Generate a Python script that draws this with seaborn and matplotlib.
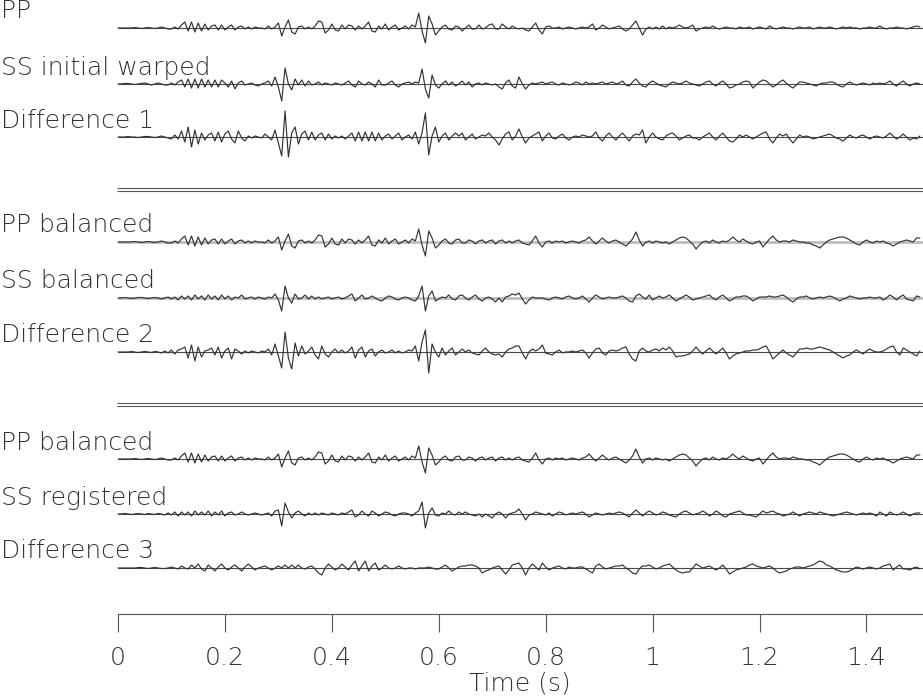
import numpy as np
import pandas as pd
import matplotlib
matplotlib.use("Agg")
import matplotlib.pyplot as plt
import seaborn as sns

# sample interval of the traces (s)
dt = 1 / 160

trace_names = ["PP", "SS initial warped", "Difference 1",
               "PP balanced", "SS balanced", "Difference 2",
               "PP balanced", "SS registered", "Difference 3"]

tick_vals = [0, 0.2, 0.4, 0.6, 0.8, 1.0, 1.2, 1.4]
tick_text = ["0", "0.2", "0.4", "0.6", "0.8", "1", "1.2", "1.4"]

# trace amplitudes, one row = 0.1 s
pp_raw = [
    0, 0, 0, 0, 0, 0.5, 0, -0.5, 0, 0.5, 0, -0.5, 0, 1, 0, -1,
    -1, 1, -1, 3, 6, -3, 6, -4, 5, -3, 4, -2, 2, 3, -2, 3,
    -2, 1, 3, -2, 1, 2, -1, 1, -1, 1, 0, 0, -1, 2, -1, 1,
    5, -8, 1, 8, -4, -6, 1, 2, -1, 1, -1, 2, 7, 6, -5, -2,
    4, -2, -3, 3, -1, 3, 2, -2, 2, -1, 2, 6, -3, -4, 2, -1,
    4, -2, 1, 3, -2, 0, 2, -1, 3, 1, 15, -3, -15, 12, 4, -7,
    -3, 1, 3, -1, -2, 2, 1, -3, 0, 3, -1, -1, 3, -1, 0, 3,
    4, -1, -1, 4, 1, -1, 2, 0, -1, 0, -2, -3, 1, 5, -2, -6,
    1, 2, 0, 0, 1, -1, 0, 1, 0, -1, 0, 1, 0, 1, 4, -2,
    0, 3, 1, -1, 0, 1, 2, -1, -3, -1, 3, 7, 0, -7, -1, 1,
    -1, 1, -1, 2, -1, 1, 0, 1, 3, 1, 0, 1, 3, -3, -1, 0,
    1, 0, 2, 0, -1, 0, 1, 0, 0, -1, 1, 0, 0, 1, -1, 0,
    1, 0, -1, 2, 0, -1, 0, 1, 0, 0, -1, 0, 1, 0, 0, 1,
    -1, 0, 1, 0, 0, 1, 0, -1, 0, 1, 0, 1, 0, 0, -1, 0,
    0, 1, 0, 0, 2, 0, -1, 0, 0, 1, 0, 0, -1, 0, 1, 2,
    1]

pp_bal = [
    0, 0, 0, 0, 0, 0.5, 0, -0.5, 0, 0.5, 0, -0.5, 0, 1, 0, -1,
    -1, 1, -1, 3, 6, -3, 6, -4, 5, -3, 4, -2, 2, 3, -2, 3,
    -2, 1, 3, -2, 1, 2, -1, 1, -1, 1, 0, 0, -1, 2, -1, 1,
    5, -8, 1, 8, -4, -6, 1, 2, -1, 1, -1, 2, 7, 6, -5, -2,
    4, -2, -3, 3, -1, 3, 2, -2, 2, -1, 2, 6, -3, -4, 2, -1,
    4, -2, 1, 3, -2, 0, 2, -1, 3, 1, 13, -3, -14, 11, 4, -6,
    -3, 1, 3, -1, -2, 2, 3, -1, -1, 2, 1, -2, 1, 2, -1, 1,
    2, -2, 1, 2, -1, 1, -1, 1, 2, -1, -2, -3, 1, 6, -1, -5,
    0, 1, -1, 1, 0, 1, -1, 0, 1, 0, -1, 1, 2, 5, 1, -2,
    1, 4, 1, -1, 1, 2, 0, -2, -4, -1, 3, 10, 2, -4, 0, 1,
    -1, 1, 0, -1, 0, -2, 0, 2, 4, 5, 4, 1, -2, -7, -3, 0,
    1, -1, 2, 0, -1, 1, 0, 2, 5, 2, 0, 3, 1, -1, -2, 0,
    1, -5, -1, 3, 6, 2, 0, 1, 1, 0, 2, 1, 0, 0, -1, -1,
    -3, -4, -6, -3, 0, 2, 3, 4, 5, 5, 4, 2, 0, -2, -3, 0,
    2, 0, -1, 1, 0, 1, -1, -2, -4, -2, 0, 1, 2, 1, 0, 4,
    4]

ss_warp = [
    0, 0, 0.5, 0.5, 0, -0.5, 0, 0.5, 1, 0, -1, 0, 1, 0, -1, -1,
    1, -1, 2, 4, -3, 5, -4, 5, -4, 5, -3, 4, -3, 4, -3, 4,
    1, -3, 3, -5, 1, 3, -1, 0, 1, -1, -2, 0, 1, 3, -2, 7,
    -3, -17, 16, 0, -6, 5, -1, 4, -2, 3, -1, 0, 2, -1, 1, 0,
    -1, 1, 0, -1, 1, 3, -1, -3, 3, 0, -1, 2, 0, -3, 4, -1,
    -1, 1, 3, -1, -3, 0, 1, 2, 0, 2, 1, 15, -5, -14, 9, -1,
    -4, 0, 3, -1, 2, -2, 0, 3, -1, 2, -3, 0, 1, -1, 1, 0,
    -1, 0, -3, -5, 1, 4, -2, -4, 7, 0, -5, -1, 1, 0, 1, 2,
    0, 1, 2, 0, -1, 1, 0, -1, 0, 2, 1, -1, 2, 0, 1, 0,
    1, 2, 0, 1, 2, 0, 1, 3, -1, -2, 2, 5, 1, -2, -3, 1,
    3, 1, -1, -2, -3, 0, 2, 1, 0, 1, 3, 1, 0, -1, -2, 0,
    2, 3, 0, -2, 1, 3, 0, -4, -3, -1, 0, 2, 3, 2, -4, -1,
    2, 4, 3, 0, -3, -1, 2, 4, 1, -2, -4, -1, 2, 2, 1, 0,
    -1, -2, 0, 1, 1, 2, 2, 0, -2, -3, 0, 2, 0, -1, 0, 1,
    0, -1, 1, 0, 1, 0, 1, 3, 0, -2, 1, 3, 0, -2, 0, 1,
    0]

diff1 = [
    0, 0, 0, 0.5, 0, 0, -0.5, 0, 0.5, 0.5, 0, -0.5, 0, 1, 0, -1,
    -2, 2, -2, 6, -5, 10, -10, 7, -7, 4, -3, 2, 4, -4, 5, -5,
    3, 6, -2, -6, 6, -1, -4, 1, -1, 1, 0, -1, 3, 0, -3, 7,
    -6, -19, 26, -20, 4, 10, -7, 3, 6, -3, 5, -3, 2, 4, -3, 3,
    -2, 1, -1, 1, -2, 1, 4, -4, 5, -4, 5, -4, 5, -4, 4, -3,
    1, 3, -2, 1, 4, -3, 0, 2, -2, 5, -7, 4, 24, -18, 1, 10,
    -5, 1, 4, -3, 1, 4, 1, 4, -3, 0, 3, -2, 0, 2, 1, 4,
    0, -3, -8, -2, 3, 5, -3, 1, 8, 0, -6, -1, 1, 3, 5, -4,
    1, 4, -1, -2, 1, 3, -1, -3, 0, 1, 0, 2, 1, 0, 1, 5,
    -1, -4, 1, 4, 0, -3, 1, 4, 0, -4, 1, 3, 2, 7, -6, 0,
    4, 0, -2, -3, 1, 3, 4, 1, -3, -1, 1, 2, -1, -1, -3, 0,
    2, 4, 0, -3, 1, 4, 0, -4, -5, -2, 2, 0, 2, 0, -2, 0,
    2, 4, 5, -2, -6, -1, 3, 1, 3, -2, -6, -2, 2, 0, 1, 0,
    -2, -1, 0, 1, 2, 3, 1, -1, -2, -4, -1, 2, 0, -1, 1, 2,
    0, -2, 0, 1, 0, -1, 1, 4, 1, -2, 0, 3, 0, -3, -1, -2,
    1]

ss_bal = [
    0, 0, 0.5, 0, -0.5, 0, 0.5, 0.5, 0, -0.5, 0, 0.5, 0, -1, 0, 1,
    -1, 1, -2, 2, -1, 2, -2, 3, -1, 2, -2, 3, -1, 2, -2, 3,
    -1, 2, -2, 1, 0, 3, -1, 0, 1, -1, 1, 0, -1, 1, 0, 4,
    -2, -13, 12, 0, -5, 4, -1, 0, 3, -1, 2, -1, 1, -1, 0, 1,
    -1, 0, 1, -1, 0, 2, 4, -3, 0, 3, -1, 0, 2, 0, -2, -3,
    0, 2, 1, -1, -2, 0, 1, 0, -2, -3, 2, 12, -13, 2, 7, -3,
    -1, 1, 0, 3, -1, -2, 2, 3, 0, -2, 1, 3, -1, -3, 0, 1,
    -1, -4, 0, -4, 1, 2, 4, 3, 5, -1, -6, -2, 1, 0, 0, 0,
    -1, -2, 0, 1, 0, -1, 1, 2, 0, -1, 0, 2, -1, -4, 0, 3,
    1, -1, 0, 1, 0, 0, 1, 2, 0, -3, -4, 2, 4, 1, -1, 3,
    -2, 0, 2, 0, 1, 3, 0, -3, -1, 1, 3, 1, -2, -1, 0, 1,
    2, 3, 0, -2, 1, 3, 0, -3, -1, 1, 1, 2, 2, 0, -3, -1,
    1, 1, 1, 2, 1, 1, 2, 3, 1, -2, -4, -1, 1, 1, 2, 0,
    -1, 0, 1, 0, 1, 2, 1, -1, -3, -1, 0, 2, 1, 0, -1, 0,
    0, 1, 0, 0, 1, -2, 0, 3, 1, -2, 1, 3, -1, -2, -3, 2,
    1]

diff2 = [
    0, 0, 0, 0, 0.5, 0, -0.5, 0, 0.5, 0, -0.5, 0.5, 0, -1, 1, -1,
    2, -2, 2, 3, 5, -6, 7, -9, 5, -5, 1, 2, 4, -3, 5, -6,
    1, 4, -7, 3, 1, -2, 1, -1, 1, 0, -1, 1, 0, 3, -3, 8,
    -4, -16, 20, -6, -17, 9, -4, 6, -2, 1, 5, -3, -7, 6, -2, -5,
    0, 3, -1, 2, -1, 1, 5, -6, 2, 5, -5, 1, 3, -4, 0, 2,
    -1, 0, 2, -1, 1, -1, 0, 2, 1, 6, -9, 10, 22, -21, 8, 0,
    -5, 4, -3, 1, 4, -3, 0, 3, 0, 2, -1, -2, -3, 1, 4, 0,
    -2, -3, -2, -5, 0, 3, 4, 6, 6, -1, -7, 0, 3, 1, 3, 7,
    -1, -2, -3, 0, 2, -1, 0, 0, 1, 0, 1, 2, -1, -6, -1, 3,
    4, -1, -3, 1, 2, 1, 2, 4, 5, -2, -7, -9, 1, 4, 1, 0,
    2, 3, 1, 4, 2, 5, 1, -5, -4, -4, -3, -2, 1, 5, 1, -2,
    1, 4, 1, -2, 1, 4, -1, -7, -4, -2, -1, 0, 1, 1, 2, 2,
    3, 5, 6, 0, -7, -4, -1, 2, -1, -3, -5, -1, 3, 3, 4, 3,
    3, 4, 5, 4, 3, 2, 0, -2, -4, -6, -4, -3, 0, 2, 0, -2,
    1, 3, 1, 0, 0, 1, 3, 5, 6, 0, -3, 4, 2, 0, -2, -4,
    1]

ss_reg = [
    0, 0, 0.5, 0, -0.5, 0, 0.5, 0, -0.5, 0.5, 0, -0.5, 0.5, 0, -1, 1,
    -1, 2, -2, 2, -1, 2, -2, 3, -1, 2, -1, 3, -2, 2, -1, 3,
    -2, 1, 2, -1, 0, 2, 0, -1, 0, 1, 0, -1, 0, 1, -2, 3,
    4, -12, 11, 2, -4, 1, 3, 0, -2, 1, -1, 1, -1, 1, 0, -1,
    1, 0, -1, 1, 0, 2, 4, -3, -1, 3, 0, -2, 3, 1, -2, 0,
    2, 1, -1, -2, 0, 1, 1, 0, -2, 1, 3, 12, -14, 1, 6, -1,
    -2, 1, 0, 3, 0, -1, 2, 0, 2, 0, -1, -2, 0, -3, 0, -2,
    -4, 0, 2, 0, -4, 0, 1, 2, 5, 0, -6, -1, 0, 2, 1, 0,
    -1, 1, -2, 0, 2, 1, -1, 0, 1, 0, 1, 2, 0, -3, -1, 1,
    0, -1, 0, 1, 0, 1, 2, 1, -1, -3, 1, 4, 1, -2, 1, 3,
    1, -1, 0, 2, 1, -1, -2, -3, 0, 2, 3, 1, -1, 0, 1, 3,
    1, -2, 0, 3, 1, -2, -3, 0, 1, 2, 3, 1, -1, -1, -2, -3,
    0, 3, 1, 2, 3, 1, 0, -2, -1, 0, 2, 0, -2, 0, 1, 2,
    1, 0, 2, 1, 0, -1, -2, -1, 0, 1, 2, 1, 0, -1, 0, 1,
    0, 1, 0, -2, 2, 0, -2, 2, 0, -1, 0, 2, 0, -2, 0, 1,
    1]

diff3 = [
    0, 0, 0, 0, 0, 0, 0.5, 0.5, 0, -0.5, 0, 0.5, 0, -0.5, -0.5, 0,
    1, 0, -1, 2, 0, -1, 3, 0, 4, -1, -3, 3, 0, -3, 1, 4,
    0, -2, 1, 3, 0, -3, 1, 4, 1, -2, 0, 1, 2, 0, -2, 0,
    2, 0, 3, 0, 3, 0, 3, 0, -1, 1, 2, -1, -5, -7, 0, 4,
    1, -2, 0, 4, 1, -2, 3, 7, -3, 2, 7, -3, 2, 5, -2, 0,
    3, 0, -1, 0, 2, 0, -1, 0, 0, -1, 0, 0, 0, 1, 0, -1,
    -1, 1, 3, 0, -3, -1, 1, 2, 2, 3, 3, 2, 0, -5, -3, -2,
    0, 1, 2, -2, -6, -2, 3, 4, 5, 0, -7, 0, 4, 1, -2, 5,
    1, -2, 0, 1, 2, 0, -1, 1, 0, 0, 1, 1, -1, -3, -5, 2,
    4, 1, -1, 0, 1, 2, 2, 3, 0, -2, -5, -6, -1, 2, 2, 3,
    1, -1, 0, 2, 3, 4, 1, -2, -4, -5, -4, -4, 0, 4, 2, 0,
    1, 2, 0, -2, 0, 3, -1, -6, -4, -2, -1, 0, 1, 3, 4, 2,
    1, 0, 1, 2, 0, -3, -5, -4, -3, -1, 0, 1, 1, 0, 1, 2,
    3, 5, 7, 6, 3, 2, 0, -2, -3, -4, -4, -3, -1, 1, 0, -1,
    0, 1, 0, -1, 0, 2, 3, 4, -2, 1, 3, -1, -1, -2, 0, 1,
    -1]

traces = [pp_raw, ss_warp, diff1, pp_bal, ss_bal, diff2, pp_bal, ss_reg, diff3]

# layout (pixel rows of the trace baselines, figure is 696 px tall)
base_rows = [28, 84, 137, 242, 298, 352, 459, 514, 568]
sep_rows = [187.5, 190.5, 402.7, 405.7]
light_zero = {3, 4}
px_per_s = 534.6
left_px = 118

sns.set_style("white")
plt.rcParams["font.family"] = ["DejaVu Sans"]

frames = []
for i, (vals, base) in enumerate(zip(traces, base_rows)):
    amp = np.asarray(vals, dtype=float)
    frames.append(pd.DataFrame({
        "time": np.arange(len(amp)) * dt,
        "row": base - amp,
        "trace": i,
    }))
df = pd.concat(frames, ignore_index=True)

fig = plt.figure(figsize=(9.23, 6.96), dpi=100)
ax = fig.add_axes([0, 0, 1, 1])
ax.set_xlim(-left_px / px_per_s, (923 - left_px) / px_per_s)
ax.set_ylim(696, 0)

# zero lines
for i, base in enumerate(base_rows):
    if i in light_zero:
        ax.hlines(base, 0, 1.51, color="#bdbdbd", lw=2.0, zorder=1)
    else:
        ax.hlines(base, 0, 1.51, color="#4a4a4a", lw=0.8, zorder=1)

sns.lineplot(data=df, x="time", y="row", units="trace", estimator=None,
             sort=False, color="#333333", linewidth=0.85, legend=False,
             ax=ax, zorder=2)

# double separator lines between the panels
ax.hlines(sep_rows, -0.002, 1.51, color="#555555", lw=0.8)

for name, base in zip(trace_names, base_rows):
    ax.text(1 / px_per_s - left_px / px_per_s, base - 9.5, name,
            fontsize=18, fontweight=200, color="#333333", va="baseline")

for s in ["left", "right", "top"]:
    ax.spines[s].set_visible(False)
ax.spines["bottom"].set_position(("data", 614))
ax.spines["bottom"].set_bounds(0, 1.51)
ax.spines["bottom"].set_color("#555555")
ax.spines["bottom"].set_linewidth(0.8)

ax.set_yticks([])
ax.set_xticks(tick_vals)
ax.set_xticklabels(tick_text)
ax.tick_params(axis="x", bottom=True, direction="out", length=13, width=0.8,
               color="#555555", pad=10, labelsize=18, labelcolor="#333333")
for lbl in ax.get_xticklabels():
    lbl.set_fontweight(200)

ax.set_ylabel("")
ax.set_xlabel("Time (s)", fontsize=18, fontweight=200, color="#333333")
ax.xaxis.set_label_coords(520 / 923, 1 - 671 / 696)

fig.savefig("out.png", dpi=100)
